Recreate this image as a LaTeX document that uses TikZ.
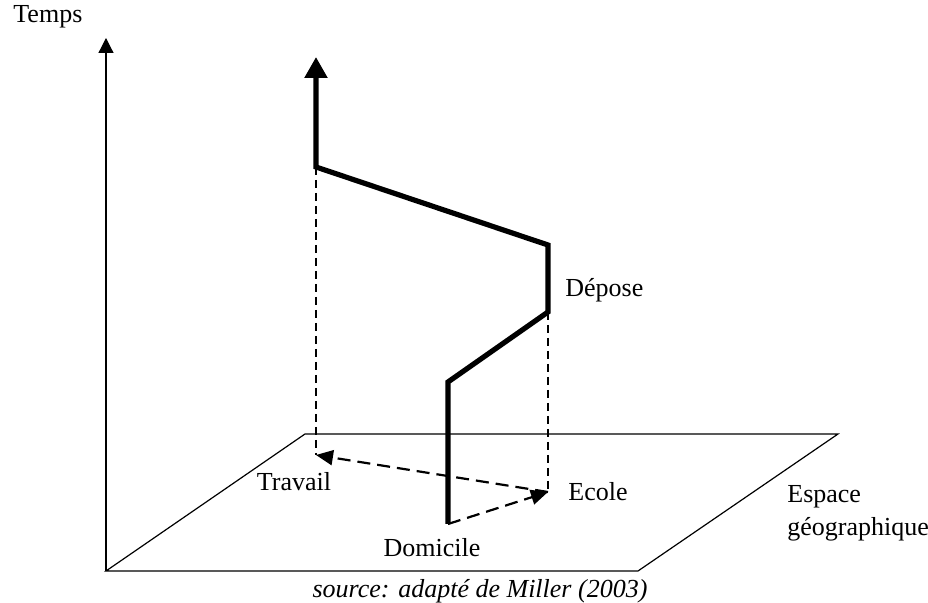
\documentclass[tikz,border=0pt]{standalone}
\usepackage{fontspec}
\setmainfont{Liberation Serif}
\usetikzlibrary{arrows.meta, positioning}

\begin{document}
\begin{tikzpicture}[>=Latex, x=0.5pt, y=-0.5pt, every node/.style={font=\fontsize{13}{16.5}\selectfont, inner sep=0pt}]
% Define styles for axes, trajectory and projections
\tikzstyle{axe} = [draw=black, line width=0.6pt]
\tikzstyle{trajet} = [draw=black, line width=2.6pt, line join=miter]
\tikzstyle{projection} = [draw=black, line width=0.7pt, dash pattern=on 4pt off 2.5pt]
\tikzstyle{deplacement} = [draw=black, line width=1.1pt, dash pattern=on 6.5pt off 3.5pt]
\tikzstyle{lieu} = [coordinate]

\useasboundingbox (0,0) rectangle (928,603);

% Points of the path
\coordinate (origine) at (106,571);
\coordinate (haut) at (106,38);
\coordinate [lieu] (dom) at (448,524);
\coordinate [lieu] (depart) at (448,382);
\coordinate [lieu] (arrivee) at (548,312);
\coordinate [lieu] (reprise) at (548,245);
\coordinate [lieu] (bureau) at (316,167);
\coordinate [lieu] (fin) at (316,57);
\coordinate [lieu] (ecole) at (548,492);
\coordinate [lieu] (travail) at (316,455);

% Plane of the geographic space
\draw[axe] (origine) -- (638,571) -- (838,434) -- (305,434) -- cycle;
\draw[axe, -{Triangle[length=7.5pt, width=7.5pt]}] (origine) -- (haut);

% Labels
\node [anchor=west] (temps) at (13,17) {Temps};
\node [anchor=west] (deposelabel) at (565,290) {Dépose};
\node (travaillabel) at (294,482) {Travail};
\node [anchor=west] (ecolelabel) at (568,492) {Ecole};
\node (domlabel) at (432,548) {Domicile};
\node [anchor=west, align=left] (espace) at (787,513) {Espace\\géographique};
\node (source) at (480,591) {\itshape source: adapté de Miller (2003)};

% Projections
\draw[projection] (bureau) -- (travail);
\draw[projection] (arrivee) -- (ecole);

% Trips on the ground
\draw[deplacement, -{Triangle[length=8.5pt, width=7.5pt]}] (dom) -- (ecole);
\draw[deplacement, -{Triangle[length=8.5pt, width=7.5pt]}] (ecole) -- (travail);

% Space-time path
\draw[trajet, -{Triangle[length=10.5pt, width=11pt]}] (dom) -- (depart) -- (arrivee) -- (reprise) -- (bureau) -- (fin);
\end{tikzpicture}
\end{document}
